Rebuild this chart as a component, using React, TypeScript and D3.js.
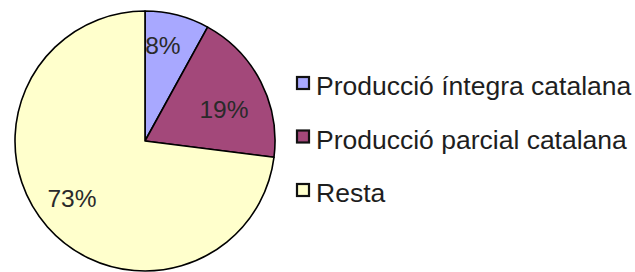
import * as d3 from 'd3'

const categories = ['Producció íntegra catalana', 'Producció parcial catalana', 'Resta']
const values = [8, 19, 73]
const colors = ['#a8a8ff', '#a3487a', '#ffffcc']

const W = 635
const H = 272

// Excel-ish label placement: small nudges off the arc centroid
const labelNudge: [number, number][] = [[-5, -7], [-3, 10], [-4, -4]]

export default function App() {
  const cx = 145
  const cy = 141
  const r = 130
  const pie = d3.pie<number>().sort(null).value((d) => d)
  const arcs = pie(values)
  const arc = d3.arc<d3.PieArcDatum<number>>().innerRadius(0).outerRadius(r)
  const labelArc = d3.arc<d3.PieArcDatum<number>>().innerRadius(92).outerRadius(92)
  const total = d3.sum(values)

  const legendY = d3.scalePoint<string>().domain(categories).range([87, 194])

  return (
    <>
      <style>{`body{margin:0}`}</style>
      <svg width={W} height={H} style={{ display: 'block', fontFamily: 'Liberation Sans, Arial, sans-serif' }}>
        <rect width={W} height={H} fill="#fff" />
        <g transform={`translate(${cx},${cy})`}>
          {arcs.map((a, i) => (
            <path key={i} d={arc(a) ?? ''} fill={colors[i]} stroke="#000" strokeWidth={1.6} strokeLinejoin="round" />
          ))}
          {arcs.map((a, i) => {
            const [x, y] = labelArc.centroid(a)
            return (
              <text key={i} x={x + labelNudge[i][0]} y={y + labelNudge[i][1]} dy="0.36em" textAnchor="middle" fontSize={24.5} fill="#2a2a2a">
                {Math.round((a.data / total) * 100)}%
              </text>
            )
          })}
        </g>
        {categories.map((c, i) => (
          <g key={c} transform={`translate(296,${legendY(c)})`}>
            <rect x={1} y={-10} width={12} height={12} fill={colors[i]} stroke="#111" strokeWidth={2.2} />
            <text x={20} y={8} fontSize={26.5} fill="#1e1e1e">{c}</text>
          </g>
        ))}
      </svg>
    </>
  )
}
